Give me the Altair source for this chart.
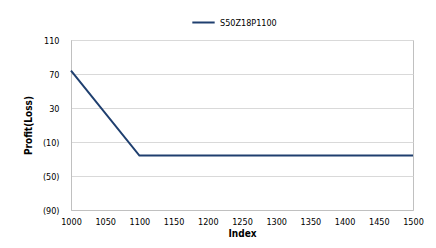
import altair as alt
import pandas as pd

index_vals = [1000, 1100, 1150, 1200, 1250, 1300, 1350, 1400, 1450, 1500]
profit_vals = [74, -26, -26, -26, -26, -26, -26, -26, -26, -26]
series_name = "S50Z18P1100"
y_ticks = [110, 70, 30, -10, -50, -90]
x_ticks = [1000, 1050, 1100, 1150, 1200, 1250, 1300, 1350, 1400, 1450, 1500]

df = pd.DataFrame({"Index": index_vals, "Profit": profit_vals, "Series": [series_name] * len(index_vals)})

font = "DejaVu Sans Condensed"

chart = alt.Chart(df).mark_line(strokeWidth=2).encode(
    x=alt.X("Index:Q", scale=alt.Scale(domain=[1000, 1500], nice=False),
            axis=alt.Axis(values=x_ticks, title="Index", grid=False, ticks=False,
                          labelOverlap=False, labelFlush=False,
                          labelPadding=7, titlePadding=2, format="d")),
    y=alt.Y("Profit:Q", scale=alt.Scale(domain=[-90, 110], nice=False),
            axis=alt.Axis(values=y_ticks, title="Profit(Loss)", ticks=False,
                          labelOverlap=False, labelFlush=False,
                          labelPadding=12, titlePadding=9,
                          labelExpr="datum.value < 0 ? '(' + abs(datum.value) + ')' : datum.value")),
    color=alt.Color("Series:N", scale=alt.Scale(range=["#1f3f6f"]),
                    legend=alt.Legend(title=None, orient="none", legendX=120, legendY=-30,
                                      symbolType="stroke", symbolSize=500, symbolStrokeWidth=2,
                                      labelFont=font, labelFontSize=9, labelColor="#000000"))
).properties(
    width=342, height=170,
    autosize=alt.AutoSizeParams(type="none"),
    padding={"left": 63, "top": 32, "right": 15, "bottom": 30}
).configure_view(
    stroke="#c0c0c0", strokeWidth=1
).configure_axis(
    labelFont=font, labelFontSize=9, labelColor="#000000",
    titleFont=font, titleFontSize=10, titleFontWeight="bold", titleColor="#000000",
    gridColor="#d9d9d9", domainColor="#c0c0c0"
)

chart.save("out.html", embed_options={"renderer": "svg", "actions": False})
